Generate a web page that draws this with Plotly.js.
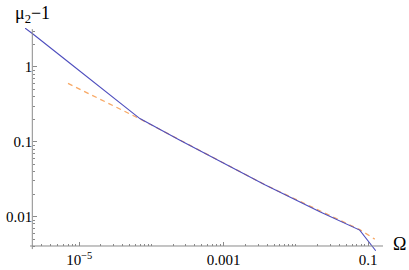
<!DOCTYPE html>
<html>
<head>
<meta charset="utf-8">
<script src="https://cdn.plot.ly/plotly-3.0.1.min.js"></script>
<style>html,body{margin:0;padding:0;background:#fff;}#chart{width:409px;height:270px;}</style>
</head>
<body>
<div id="chart"></div>
<script>
// Blue solid curve (Omega, mu2-1)
const blueOmega = [1.77e-6, 2.26e-6, 7.43e-6, 2.66e-5, 6.92e-5, 2.48e-4, 3.72e-3, 0.0215, 0.0767, 0.128];
const blueMu    = [3.31, 2.77, 1.12, 0.42, 0.204, 0.105, 0.0267, 0.0116, 0.0066, 0.0035];
// Orange dashed curve
const orangeOmega = [6.98e-6, 6.92e-5, 3.72e-3, 0.0767, 0.124];
const orangeMu    = [0.603, 0.202, 0.0267, 0.0067, 0.0050];
// Tick labels
const xTickVals = [1e-5, 1e-3, 1e-1];
const xTickText = ['10<sup>\u22125</sup>', '0.001', '0.1'];
const yTickVals = [0.01, 0.1, 1];
const yTickText = ['0.01', '0.1', '1'];

function minorTicks(lo, hi, skip) {
  const out = [];
  for (let e = -8; e <= 2; e++) {
    for (let m = 1; m <= 9; m++) {
      const v = m * Math.pow(10, e);
      if (v >= lo && v <= hi && !skip.some(s => Math.abs(s - v) / v < 1e-9)) out.push(v);
    }
  }
  return out;
}
// plot area: x 25..383.3 px, y 28..252 px; axes cross at (32.3, 246)
const xr = [-5.7516, -0.7924];
const yr = [-2.473, 0.52];
const yAxisPos = 0.0204;
const xAxisPos = 0.0268;
const axisColor = '#8a8a8a';
const serifFamily = 'Liberation Serif';

const traces = [
  {x: orangeOmega, y: orangeMu, mode: 'lines', line: {color: 'rgb(248,168,100)', width: 1.3, dash: '5px,4px'}, hoverinfo: 'none'},
  {x: blueOmega, y: blueMu, mode: 'lines', line: {color: 'rgb(78,78,190)', width: 1.1}, hoverinfo: 'none'},
  {x: [], y: [], xaxis: 'x2', yaxis: 'y2', mode: 'lines', hoverinfo: 'none'}
];

const commonAxis = {showgrid: false, zeroline: false, showline: false, tickcolor: axisColor, tickwidth: 1, ticks: 'inside'};

const layout = {
  width: 409, height: 270,
  margin: {l: 25, r: 25.7, t: 28, b: 18},
  paper_bgcolor: '#fff', plot_bgcolor: 'rgba(0,0,0,0)',
  showlegend: false,
  font: {family: serifFamily, size: 15, color: '#000'},
  xaxis: Object.assign({}, commonAxis, {
    type: 'log', range: xr, anchor: 'free', position: xAxisPos, side: 'bottom',
    tickmode: 'array', tickvals: xTickVals, ticktext: xTickText, ticklen: 4, ticklabelstandoff: 3,
    tickfont: {family: serifFamily, size: 15, color: '#000'}
  }),
  yaxis: Object.assign({}, commonAxis, {
    type: 'log', range: yr, anchor: 'free', position: yAxisPos, side: 'left',
    tickmode: 'array', tickvals: yTickVals, ticktext: yTickText, ticklen: 4,
    tickfont: {family: serifFamily, size: 15, color: '#000'}
  }),
  xaxis2: Object.assign({}, commonAxis, {
    type: 'log', range: xr, overlaying: 'x', anchor: 'free', position: xAxisPos, side: 'bottom',
    tickmode: 'array', tickvals: minorTicks(2.9e-6, 0.17, xTickVals), ticklen: 2, showticklabels: false
  }),
  yaxis2: Object.assign({}, commonAxis, {
    type: 'log', range: yr, overlaying: 'y', anchor: 'free', position: yAxisPos, side: 'left',
    tickmode: 'array', tickvals: minorTicks(0.004, 3.3, yTickVals), ticklen: 2, showticklabels: false
  }),
  shapes: [
    {type: 'line', xref: 'paper', yref: 'paper', x0: 0.014, x1: 1, y0: xAxisPos, y1: xAxisPos, line: {color: axisColor, width: 1}},
    {type: 'line', xref: 'paper', yref: 'paper', x0: yAxisPos, x1: yAxisPos, y0: 0.013, y1: 0.995, line: {color: axisColor, width: 1}}
  ],
  annotations: [
    {xref: 'paper', yref: 'paper', x: 0.02, y: 1.06, xanchor: 'center', yanchor: 'middle', showarrow: false,
     text: '\u03bc<sub>2</sub>\u22121', font: {family: serifFamily, size: 18, color: '#000'}},
    {xref: 'paper', yref: 'paper', x: 1.047, y: 0.035, xanchor: 'center', yanchor: 'middle', showarrow: false,
     text: '\u03a9', font: {family: serifFamily, size: 18, color: '#000'}}
  ]
};

Plotly.newPlot('chart', traces, layout, {staticPlot: true, displayModeBar: false});
</script>
</body>
</html>
